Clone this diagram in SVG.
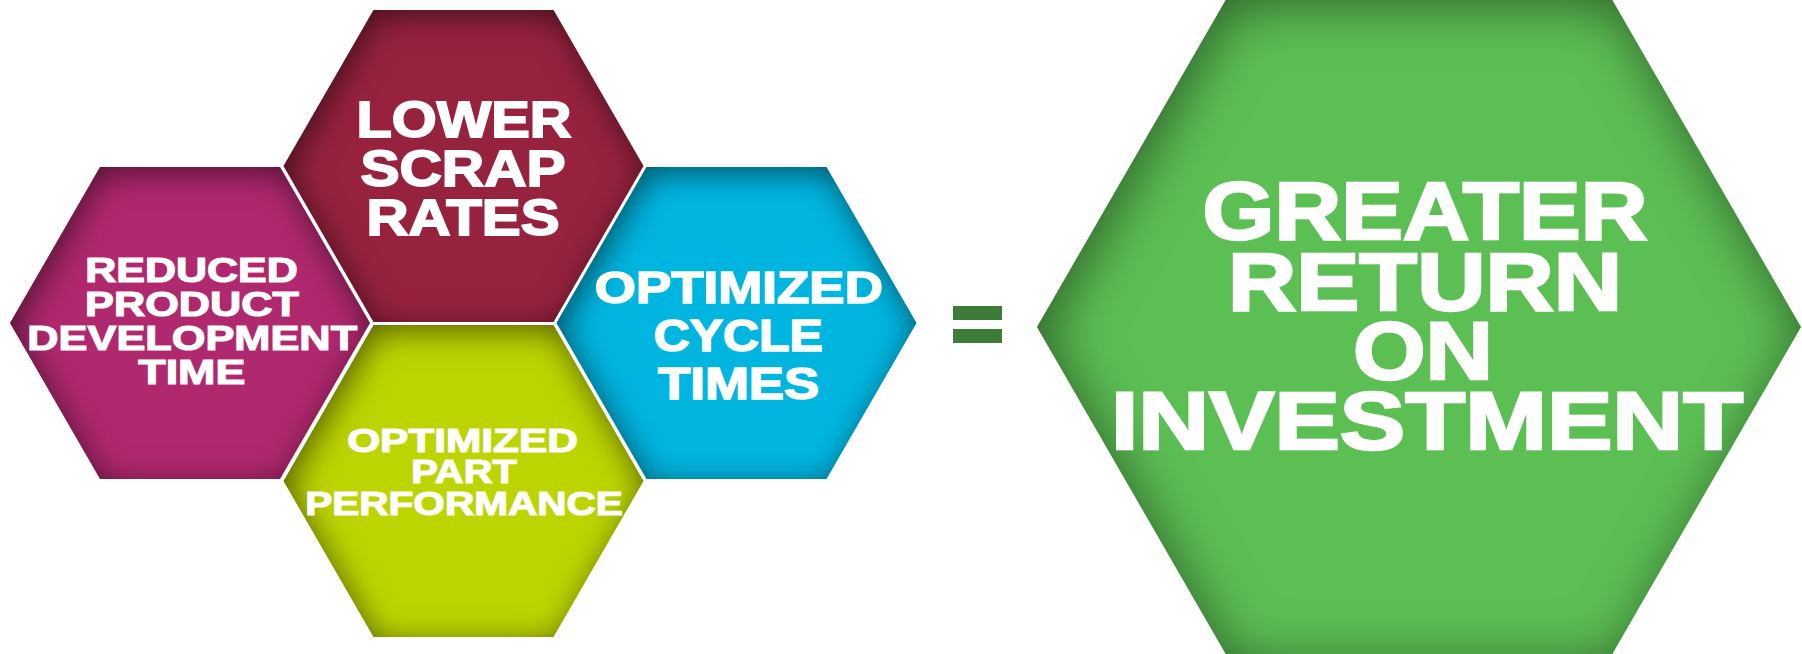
<svg xmlns="http://www.w3.org/2000/svg" width="1802" height="654" viewBox="0 0 1802 654">
  <style>
    .lbl { font-family: "Liberation Sans", Arial, sans-serif; font-weight: bold; fill: #ffffff; stroke: #ffffff; stroke-linejoin: miter; text-anchor: middle; }
    .a { font-size: 35.3px; stroke-width: 1.2; }
    .b { font-size: 49.9px; stroke-width: 1.8; }
    .c { font-size: 33.7px; stroke-width: 1.2; }
    .d { font-size: 43.6px; stroke-width: 1.5; }
    .e { font-size: 81px; stroke-width: 2.5; }
  </style>
  <defs>
    <filter id="innerS" x="-10%" y="-10%" width="120%" height="120%" color-interpolation-filters="sRGB">
      <feOffset in="SourceAlpha" dx="4" dy="6" result="off"/>
      <feGaussianBlur in="off" stdDeviation="16" result="blur"/>
      <feComposite in="SourceAlpha" in2="blur" operator="out" result="inv"/>
      <feFlood flood-color="#000000" flood-opacity="0.55" result="col"/>
      <feComposite in="col" in2="inv" operator="in" result="shadow"/>
      <feMerge><feMergeNode in="SourceGraphic"/><feMergeNode in="shadow"/></feMerge>
    </filter>
    <filter id="innerL" x="-10%" y="-10%" width="120%" height="120%" color-interpolation-filters="sRGB">
      <feOffset in="SourceAlpha" dx="6" dy="8" result="off"/>
      <feGaussianBlur in="off" stdDeviation="28" result="blur"/>
      <feComposite in="SourceAlpha" in2="blur" operator="out" result="inv"/>
      <feFlood flood-color="#000000" flood-opacity="0.5" result="col"/>
      <feComposite in="col" in2="inv" operator="in" result="shadow"/>
      <feMerge><feMergeNode in="SourceGraphic"/><feMergeNode in="shadow"/></feMerge>
    </filter>
  </defs>

  <g id="node-reduced">
    <polygon points="10,323 100,167.1 280,167.1 370,323 280,478.9 100,478.9" fill="#b0286e" filter="url(#innerS)"/>
    <text class="lbl a" transform="translate(191.5,282) scale(1.219,1)">REDUCED</text>
    <text class="lbl a" transform="translate(192,316) scale(1.225,1)">PRODUCT</text>
    <text class="lbl a" transform="translate(192.2,350) scale(1.228,1)">DEVELOPMENT</text>
    <text class="lbl a" transform="translate(191.8,384) scale(1.27,1)">TIME</text>
  </g>

  <g id="node-scrap">
    <polygon points="283.5,166 373.5,10.1 553.5,10.1 643.5,166 553.5,321.9 373.5,321.9" fill="#97223e" filter="url(#innerS)"/>
    <text class="lbl b" transform="translate(464,137) scale(1.159,1)">LOWER</text>
    <text class="lbl b" transform="translate(463,186) scale(1.175,1)">SCRAP</text>
    <text class="lbl b" transform="translate(463,235) scale(1.167,1)">RATES</text>
  </g>

  <g id="node-part">
    <polygon points="283.5,481 373.5,325.1 553.5,325.1 643.5,481 553.5,636.9 373.5,636.9" fill="#bcd500" filter="url(#innerS)"/>
    <text class="lbl c" transform="translate(462.5,451.5) scale(1.258,1)">OPTIMIZED</text>
    <text class="lbl c" transform="translate(464,482.5) scale(1.183,1)">PART</text>
    <text class="lbl c" transform="translate(464,515) scale(1.203,1)">PERFORMANCE</text>
  </g>

  <g id="node-cycle">
    <polygon points="556.5,323 646.5,167.1 826.5,167.1 916.5,323 826.5,478.9 646.5,478.9" fill="#00b6e1" filter="url(#innerS)"/>
    <text class="lbl d" transform="translate(738.8,302.5) scale(1.214,1)">OPTIMIZED</text>
    <text class="lbl d" transform="translate(738.3,351) scale(1.144,1)">CYCLE</text>
    <text class="lbl d" transform="translate(738.6,399.3) scale(1.21,1)">TIMES</text>
  </g>

  <g id="equals">
    <rect x="953" y="306" width="49" height="14" fill="#3d7b37"/>
    <rect x="953" y="329" width="49" height="14" fill="#3d7b37"/>
  </g>

  <g id="node-roi">
    <polygon points="1037,327 1228,-4 1610,-4 1801,327 1610,658 1228,658" fill="#5cbf54" filter="url(#innerL)"/>
    <text class="lbl e" transform="translate(1425,238.7) scale(1.141,1)">GREATER</text>
    <text class="lbl e" transform="translate(1425,309.5) scale(1.168,1)">RETURN</text>
    <text class="lbl e" transform="translate(1423,379) scale(1.153,1)">ON</text>
    <text class="lbl e" transform="translate(1427,449) scale(1.211,1)">INVESTMENT</text>
  </g>

  <g id="connectors"></g>
</svg>
